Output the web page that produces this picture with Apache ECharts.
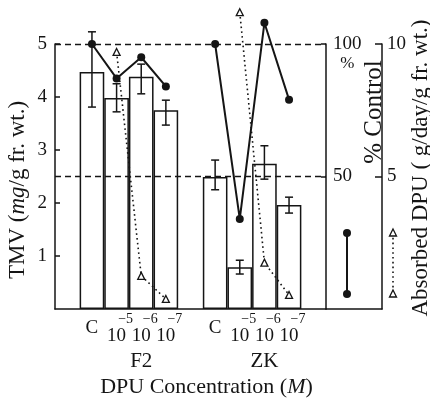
<!DOCTYPE html>
<html><head><meta charset="utf-8">
<script src="https://cdn.jsdelivr.net/npm/echarts@6/dist/echarts.min.js"></script>
<style>html,body{margin:0;padding:0;background:#fff}#c{width:430px;height:401px}</style>
</head><body><div id="c"></div>
<script>
// ---- data ----
const groups = ['F2', 'ZK'];
const concentrations = ['C', '10^-5', '10^-6', '10^-7'];
const tmvF2 = [4.47, 3.98, 4.38, 3.75];
const tmvZK = [2.49, 0.79, 2.74, 1.96];
const tmvLowF2 = [3.81, 3.72, 4.06, 3.47];
const tmvHighF2 = [5.23, 4.25, 4.62, 3.94];
const tmvLowZK = [2.25, 0.66, 2.45, 1.81];
const tmvHighZK = [2.81, 0.92, 3.08, 2.11];
const pctControlF2 = [100, 87, 95, 84];
const pctControlZK = [100, 34, 108, 79];
const absorbedF2 = [null, 9.7, 1.25, 0.38];
const absorbedZK = [null, 11.2, 1.75, 0.53];
const referenceLevels = [100, 50];

// ---- layout helpers ----
const FONT = "'Liberation Serif', 'DejaVu Serif', serif";
const INK = '#151515';

const slots = ['pad0'];
groups.forEach((g, gi) => { concentrations.forEach(c => slots.push(g + '|' + c)); slots.push('pad' + (gi + 1)); });
function spread(perGroup) {
  const out = [null];
  perGroup.forEach(arr => { arr.forEach(v => out.push(v)); out.push(null); });
  return out;
}
const tmv = spread([tmvF2, tmvZK]);
const lows = spread([tmvLowF2, tmvLowZK]);
const highs = spread([tmvHighF2, tmvHighZK]);
const pct = spread([pctControlF2, pctControlZK]);
const absorbed = spread([absorbedF2, absorbedZK]);
const errData = [];
slots.forEach((s, i) => { if (lows[i] != null) errData.push([i, lows[i], highs[i]]); });

const chart = echarts.init(document.getElementById('c'));
const txt = {color: INK, fontFamily: FONT};

chart.setOption({
  animation: false,
  backgroundColor: '#fff',
  textStyle: {fontFamily: FONT, color: INK},
  grid: [
    {left: 55, right: 104, top: 44, bottom: 92, containLabel: false, outerBoundsMode: 'none'},
    {left: 326, right: 48, top: 44, bottom: 92, containLabel: false, outerBoundsMode: 'none'}
  ],
  xAxis: [
    {
      type: 'category', gridIndex: 0, data: slots, position: 'bottom',
      axisLine: {show: true, lineStyle: {color: INK, width: 1.5}},
      axisTick: {show: false},
      axisLabel: {
        interval: 0, margin: 3, ...txt,
        formatter: v => {
          if (v.indexOf('|') < 0) return '';
          const c = v.split('|')[1];
          if (c === 'C') return '{c|C}';
          return '{s|' + c.split('^')[1].replace('-', '\u2212') + '}\n{b|10}';
        },
        rich: {
          c: {fontSize: 19, lineHeight: 32, fontFamily: FONT, color: INK},
          s: {fontSize: 14, lineHeight: 14, fontFamily: FONT, color: INK, padding: [0, 0, 0, 18]},
          b: {fontSize: 19, lineHeight: 20, fontFamily: FONT, color: INK}
        }
      },
      name: '{n|DPU Concentration (}{i|M}{n|)}',
      nameLocation: 'middle', nameGap: 67, nameMoveOverlap: false,
      nameTextStyle: {
        padding: [0, 0, 0, 32],
        rich: {
          n: {fontSize: 22, lineHeight: 22, fontFamily: FONT, color: INK},
          i: {fontSize: 22, lineHeight: 22, fontFamily: FONT, color: INK, fontStyle: 'italic'}
        }
      }
    },
    {
      type: 'category', gridIndex: 0, data: slots, position: 'bottom',
      axisLine: {show: false}, axisTick: {show: false},
      axisLabel: {
        interval: 0, margin: 42, fontSize: 21, ...txt,
        formatter: v => (v.indexOf('|') >= 0 && v.split('|')[1] === concentrations[2]) ? v.split('|')[0] : ''
      }
    },
    {
      type: 'category', gridIndex: 1, data: ['key'],
      axisLine: {show: true, lineStyle: {color: INK, width: 1.5}},
      axisTick: {show: false}, axisLabel: {show: false}
    }
  ],
  yAxis: [
    {
      type: 'value', gridIndex: 0, position: 'left', min: 0, max: 5, interval: 1,
      axisLine: {show: true, onZero: false, lineStyle: {color: INK, width: 1.5}},
      axisTick: {show: true, inside: true, length: 5, lineStyle: {color: INK, width: 1.5}},
      axisLabel: {showMinLabel: false, margin: 8, fontSize: 19, ...txt},
      splitLine: {show: false},
      name: '{n|TMV (}{i|mg}{n|/g fr. wt.)}',
      nameLocation: 'middle', nameGap: 26, nameMoveOverlap: false,
      nameTextStyle: {
        padding: [0, 27, 0, 0],
        rich: {
          n: {fontSize: 23, lineHeight: 23, fontFamily: FONT, color: INK},
          i: {fontSize: 23, lineHeight: 23, fontFamily: FONT, color: INK, fontStyle: 'italic'}
        }
      }
    },
    {
      type: 'value', gridIndex: 0, position: 'right', min: 0, max: 100, interval: 50,
      axisLine: {show: true, onZero: false, lineStyle: {color: INK, width: 1.5}},
      axisTick: {show: true, inside: true, length: 5, lineStyle: {color: INK, width: 1.5}},
      axisLabel: {
        showMinLabel: false, margin: 7, ...txt,
        formatter: v => v === 100 ? '{e| }\n{n|100}\n{p|%}' : '{n|' + v + '}',
        rich: {
          e: {fontSize: 19, lineHeight: 20, fontFamily: FONT, color: INK},
          n: {fontSize: 19, lineHeight: 20, fontFamily: FONT, color: INK},
          p: {fontSize: 17, lineHeight: 20, fontFamily: FONT, color: INK, align: 'center'}
        }
      },
      splitLine: {show: false},
      name: '% Control', nameLocation: 'middle', nameGap: 36, nameMoveOverlap: false,
      nameTextStyle: {fontSize: 25, fontFamily: FONT, color: INK, padding: [0, 0, 0, 129]}
    },
    {
      type: 'value', gridIndex: 0, position: 'right', offset: 56, min: 0, max: 10, interval: 5,
      axisLine: {show: true, onZero: false, lineStyle: {color: INK, width: 1.5}},
      axisTick: {show: true, inside: true, length: 7, lineStyle: {color: INK, width: 1.5}},
      axisLabel: {showMinLabel: false, margin: 5, fontSize: 19, ...txt},
      splitLine: {show: false},
      name: 'Absorbed DPU ( g/day/g fr. wt.)', nameLocation: 'middle', nameGap: 27, nameMoveOverlap: false,
      nameTextStyle: {fontSize: 23, fontFamily: FONT, color: INK, padding: [0, 0, 0, 17]}
    },
    {type: 'value', gridIndex: 1, show: false, min: 0, max: 1}
  ],
  series: [
    {
      type: 'bar', xAxisIndex: 0, yAxisIndex: 0, data: tmv,
      barCategoryGap: '0%', clip: false,
      itemStyle: {color: 'rgba(255,255,255,0)', borderColor: INK, borderWidth: 1.5},
      z: 2
    },
    {
      type: 'custom', xAxisIndex: 0, yAxisIndex: 0, data: errData, clip: false,
      encode: {x: 0, y: [1, 2]},
      renderItem: (params, api) => {
        const x = api.value(0);
        const pLo = api.coord([x, api.value(1)]);
        const pHi = api.coord([x, api.value(2)]);
        const h = 4;
        const st = {stroke: INK, lineWidth: 1.5};
        return {type: 'group', children: [
          {type: 'line', shape: {x1: pLo[0], y1: pLo[1], x2: pHi[0], y2: pHi[1]}, style: st},
          {type: 'line', shape: {x1: pLo[0] - h, y1: pLo[1], x2: pLo[0] + h, y2: pLo[1]}, style: st},
          {type: 'line', shape: {x1: pHi[0] - h, y1: pHi[1], x2: pHi[0] + h, y2: pHi[1]}, style: st}
        ]};
      },
      z: 3
    },
    {
      type: 'line', xAxisIndex: 0, yAxisIndex: 1, data: pct, connectNulls: false, clip: false,
      symbol: 'circle', symbolSize: 8,
      itemStyle: {color: INK},
      lineStyle: {color: INK, width: 2},
      markLine: {
        silent: true, symbol: ['none', 'none'], label: {show: false},
        lineStyle: {color: INK, width: 1.3, type: [6, 4]},
        data: referenceLevels.map(v => ({yAxis: v}))
      },
      z: 5
    },
    {
      type: 'line', xAxisIndex: 0, yAxisIndex: 2, data: absorbed, connectNulls: false, clip: false,
      symbol: 'triangle', symbolSize: 7,
      itemStyle: {color: '#fff', borderColor: INK, borderWidth: 1.3},
      lineStyle: {color: INK, width: 1.6, type: [1.6, 3.2]},
      z: 4
    }
  ],
  graphic: [
    {type: 'line', shape: {x1: 347, y1: 233, x2: 347, y2: 294}, style: {stroke: INK, lineWidth: 2}},
    {type: 'circle', shape: {cx: 347, cy: 233, r: 4}, style: {fill: INK}},
    {type: 'circle', shape: {cx: 347, cy: 294, r: 4}, style: {fill: INK}},
    {type: 'line', shape: {x1: 393, y1: 233, x2: 393, y2: 294}, style: {stroke: INK, lineWidth: 1.6, lineDash: [1.6, 3.2]}},
    {type: 'polygon', shape: {points: [[393, 229], [396.5, 236], [389.5, 236]]}, style: {fill: '#fff', stroke: INK, lineWidth: 1.3}},
    {type: 'polygon', shape: {points: [[393, 290], [396.5, 297], [389.5, 297]]}, style: {fill: '#fff', stroke: INK, lineWidth: 1.3}}
  ]
});
</script>
</body></html>
